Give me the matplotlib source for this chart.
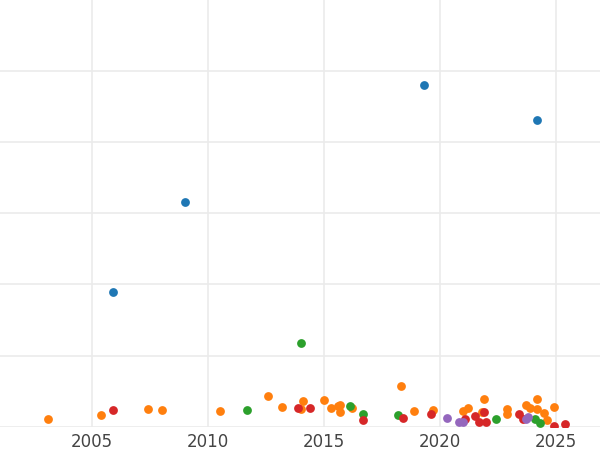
import matplotlib
matplotlib.use("Agg")
import matplotlib.pyplot as plt

# values (y in gridline units)
blue_x = [2005.9, 2009.0, 2019.3, 2024.2]
blue_y = [1.89, 3.16, 4.80, 4.31]
green_x = [2014.0, 2011.7, 2016.1, 2016.7, 2018.2, 2022.4, 2024.1, 2024.3]
green_y = [1.18, 0.24, 0.29, 0.18, 0.17, 0.11, 0.11, 0.06]
orange_x = [2003.1, 2005.4, 2007.4, 2008.0, 2010.5, 2012.6, 2013.2, 2014.1, 2014.0, 2015.0,
            2015.3, 2015.6, 2015.7, 2015.7, 2016.2, 2018.3, 2018.9, 2019.7, 2021.0, 2021.2,
            2021.9, 2021.8, 2022.9, 2022.9, 2023.7, 2023.9, 2024.2, 2024.2, 2024.5, 2024.6, 2024.9]
orange_y = [0.11, 0.17, 0.25, 0.24, 0.22, 0.43, 0.28, 0.36, 0.25, 0.38,
            0.27, 0.29, 0.31, 0.21, 0.27, 0.58, 0.22, 0.24, 0.22, 0.27,
            0.39, 0.21, 0.25, 0.18, 0.31, 0.27, 0.39, 0.25, 0.20, 0.10, 0.28]
red_x = [2005.9, 2013.9, 2014.4, 2016.7, 2018.4, 2019.6, 2021.1, 2021.5, 2021.7, 2021.9,
         2022.0, 2023.4, 2023.6, 2024.9, 2025.4]
red_y = [0.24, 0.27, 0.27, 0.10, 0.13, 0.18, 0.11, 0.15, 0.07, 0.21,
         0.07, 0.18, 0.11, 0.01, 0.04]
purple_x = [2020.3, 2020.8, 2021.0, 2023.8, 2023.7]
purple_y = [0.13, 0.07, 0.07, 0.14, 0.11]

fig = plt.figure(figsize=(6, 4.5), dpi=100)
ax = fig.add_axes([0, 0.051, 1, 0.949])

for xs, ys, c in [(blue_x, blue_y, "#1f77b4"), (orange_x, orange_y, "#ff7f0e"),
                  (green_x, green_y, "#2ca02c"), (red_x, red_y, "#d62728"),
                  (purple_x, purple_y, "#9467bd")]:
    ax.scatter(xs, ys, s=40, color=c, zorder=3, linewidths=0)

ax.set_xlim(2001.03, 2026.9)
ax.set_ylim(0, 5.99)
ax.set_xticks([2005, 2010, 2015, 2020, 2025])
ax.set_yticks([0, 1, 2, 3, 4, 5])
ax.tick_params(axis="x", length=0, labelsize=12, labelcolor="#444444", pad=4)
ax.tick_params(axis="y", length=0, labelleft=False)
ax.grid(True, color="#ebebeb", linewidth=1.2, zorder=0)
for s in ax.spines.values():
    s.set_visible(False)

fig.savefig("out.png")
